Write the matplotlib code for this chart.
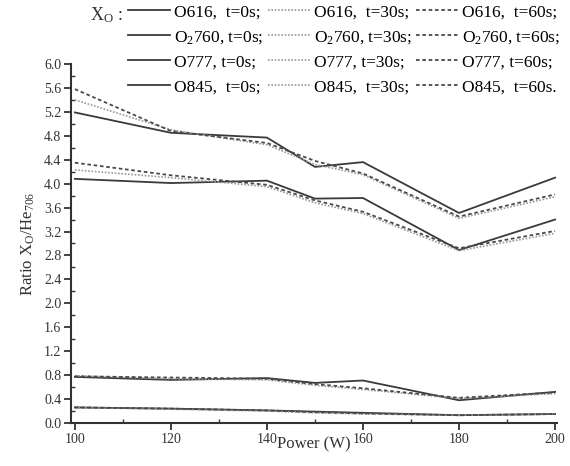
import numpy as np
import matplotlib.pyplot as plt

# ==========================================================
# 1. 데이터
# ==========================================================
power = [100, 120, 140, 150, 160, 180, 200]

o616_t0 = [0.77, 0.72, 0.75, 0.67, 0.71, 0.38, 0.52]
o616_t30 = [0.79, 0.74, 0.72, 0.63, 0.56, 0.41, 0.49]
o616_t60 = [0.78, 0.76, 0.74, 0.65, 0.58, 0.42, 0.51]

o2760_t0 = [0.26, 0.24, 0.21, 0.19, 0.17, 0.13, 0.15]
o2760_t30 = [0.26, 0.23, 0.20, 0.17, 0.15, 0.13, 0.15]
o2760_t60 = [0.26, 0.24, 0.21, 0.18, 0.16, 0.13, 0.15]

o777_t0 = [5.19, 4.85, 4.77, 4.28, 4.36, 3.51, 4.10]
o777_t30 = [5.40, 4.90, 4.65, 4.32, 4.15, 3.42, 3.78]
o777_t60 = [5.58, 4.88, 4.68, 4.38, 4.17, 3.45, 3.82]

o845_t0 = [4.08, 4.01, 4.05, 3.75, 3.76, 2.89, 3.40]
o845_t30 = [4.23, 4.10, 3.95, 3.68, 3.50, 2.88, 3.17]
o845_t60 = [4.35, 4.14, 3.98, 3.72, 3.53, 2.92, 3.21]

species = ["O616,  ", "O$_2$760, ", "O777, ", "O845,  "]
series = {
    't0': [o616_t0, o2760_t0, o777_t0, o845_t0],
    't30': [o616_t30, o2760_t30, o777_t30, o845_t30],
    't60': [o616_t60, o2760_t60, o777_t60, o845_t60],
}
time_labels = {'t0': "t=0s", 't30': "t=30s", 't60': "t=60s"}

# ==========================================================
# 2. 스타일
# ==========================================================
plt.rcParams['font.family'] = 'Liberation Serif'
plt.rcParams['mathtext.fontset'] = 'custom'
plt.rcParams['mathtext.rm'] = 'Liberation Serif'
plt.rcParams['mathtext.it'] = 'Liberation Serif:italic'

styles = {
    't0': dict(color='#3a3a3a', ls='-', lw=1.3),
    't30': dict(color='#9a9a9a', ls=(0, (1, 1)), lw=1.2),
    't60': dict(color='#4a4a4a', ls=(0, (2, 1.5)), lw=1.3),
}

fig = plt.figure(figsize=(5.7, 4.66), dpi=100)
ax = fig.add_axes([0.1246, 0.0923, 0.8526, 0.7704])

handles = []
for key in ['t0', 't30', 't60']:
    for i, ys in enumerate(series[key]):
        end = ';' if not (key == 't60' and i == 3) else '.'
        h, = ax.plot(power, ys, **styles[key],
                     label=f"{species[i]}{time_labels[key]}{end}")
        handles.append(h)

# ==========================================================
# 3. 축 설정
# ==========================================================
ax.set_xlim(99.2, 200.4)
ax.set_ylim(0, 6.0)
ax.set_xticks(np.arange(100, 201, 20))
ax.set_xticks(np.arange(110, 200, 20), minor=True)
ax.set_yticks(np.arange(0, 6.01, 0.4))
ax.set_yticks(np.arange(0.2, 6.0, 0.4), minor=True)
ax.set_yticklabels([f"{v:.1f}" for v in np.arange(0, 6.01, 0.4)])

for s in ['top', 'right']:
    ax.spines[s].set_visible(False)
for s in ['left', 'bottom']:
    ax.spines[s].set_linewidth(1.5)
    ax.spines[s].set_color('#333333')

ax.tick_params(axis='both', which='major', direction='out', length=5, width=1.3,
               labelsize=10, colors='#333333', pad=2)
ax.tick_params(axis='both', which='minor', direction='in', length=3, width=1.0, colors='#333333')

ax.set_xlabel("Power (W)", fontsize=12, labelpad=-7, color='#333333')
ax.set_ylabel("Ratio X$_\\mathrm{O}$/He$_{706}$", fontsize=12, labelpad=5, color='#333333')

# ==========================================================
# 4. 범례
# ==========================================================
fig.legend(handles=handles, loc='upper left', bbox_to_anchor=(128 / 570, 1 - 4 / 466),
           ncol=3, frameon=False, fontsize=12.5, handlelength=2.4, handletextpad=0.25,
           columnspacing=0.25, labelspacing=0.5, borderaxespad=0, borderpad=0)
fig.text(90 / 570, 1 - 15 / 466, "X$_\\mathrm{O}$ :", fontsize=13, va='center', ha='left',
         color='#333333')

plt.savefig("out.png", dpi=100)
